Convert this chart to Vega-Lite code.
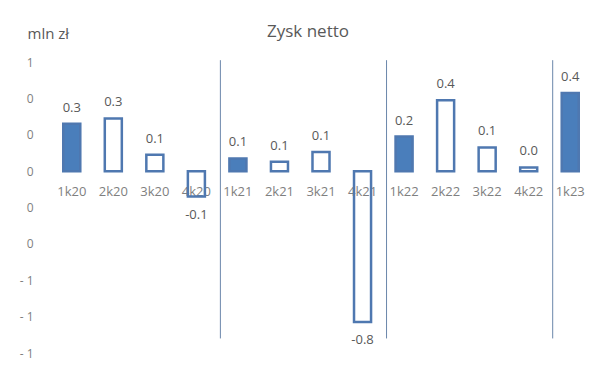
{
  "$schema": "https://vega.github.io/schema/vega-lite/v6.json",
  "width": 540,
  "height": 291,
  "autosize": "none",
  "padding": {"left": 51, "top": 62, "right": 7, "bottom": 13},
  "background": "white",
  "title": {
    "text": "Zysk netto",
    "anchor": "middle",
    "frame": "group",
    "dx": -13,
    "dy": 15,
    "offset": 0,
    "fontSize": 17,
    "font": "Open Sans",
    "fontWeight": "normal",
    "color": "#595959"
  },
  "config": {
    "view": {"stroke": null},
    "font": "Open Sans",
    "locale": {
      "number": {"decimal": ".", "thousands": ",", "grouping": [3], "currency": ["$", ""], "minus": "-"}
    }
  },
  "data": {
    "values": [
      {"q": "1k20", "kw": 1, "value": 0.26},
      {"q": "2k20", "kw": 2, "value": 0.29},
      {"q": "3k20", "kw": 3, "value": 0.09},
      {"q": "4k20", "kw": 4, "value": -0.14},
      {"q": "1k21", "kw": 1, "value": 0.07},
      {"q": "2k21", "kw": 2, "value": 0.052},
      {"q": "3k21", "kw": 3, "value": 0.105},
      {"q": "4k21", "kw": 4, "value": -0.83},
      {"q": "1k22", "kw": 1, "value": 0.19},
      {"q": "2k22", "kw": 2, "value": 0.39},
      {"q": "3k22", "kw": 3, "value": 0.13},
      {"q": "4k22", "kw": 4, "value": 0.02},
      {"q": "1k23", "kw": 1, "value": 0.43}
    ]
  },
  "layer": [
    {
      "mark": {
        "type": "bar",
        "stroke": "#4f78b0",
        "strokeWidth": 2.5
      },
      "encoding": {
        "x": {
          "field": "q",
          "type": "nominal",
          "sort": null,
          "scale": {"paddingInner": 0.59, "paddingOuter": 0.295},
          "axis": {
            "title": null,
            "orient": "bottom",
            "offset": -182,
            "domain": false,
            "ticks": false,
            "labelPadding": 14,
            "labelAngle": 0,
            "labelFontSize": 13,
            "labelColor": "#7f7f7f"
          }
        },
        "y": {
          "field": "value",
          "type": "quantitative",
          "scale": {"domain": [-1, 0.6], "nice": false, "zero": true},
          "axis": {
            "values": [-1, -0.8, -0.6, -0.4, -0.2, 0, 0.2, 0.4, 0.6],
            "tickCount": 12,
            "labelExpr": "datum.value < -0.5 ? '- ' + format(-datum.value, '.0f') : format(abs(datum.value), '.0f')",
            "labelOverlap": false,
            "domain": false,
            "ticks": false,
            "grid": false,
            "labelPadding": 18,
            "labelFontSize": 12,
            "labelColor": "#7f7f7f",
            "title": "mln zł",
            "titleAngle": 0,
            "titleAlign": "left",
            "titleBaseline": "middle",
            "titleX": -24,
            "titleY": -29,
            "titleFontSize": 15,
            "titleFontWeight": "normal",
            "titleColor": "#595959"
          }
        },
        "fill": {
          "condition": {"test": "datum.kw == 1", "value": "#4a7ebb"},
          "value": "transparent"
        }
      }
    },
    {
      "transform": [{"filter": "datum.kw == 1 && datum.q != '1k20'"}],
      "mark": {"type": "rule", "color": "#6b87ab", "strokeWidth": 1},
      "encoding": {
        "x": {"field": "q", "type": "nominal", "sort": null, "bandPosition": -0.53},
        "y": {"datum": 0.61},
        "y2": {"datum": -0.92}
      }
    },
    {
      "transform": [{"filter": "datum.value >= 0"}],
      "mark": {"type": "text", "baseline": "middle", "dy": -16, "fontSize": 13, "color": "#595959"},
      "encoding": {
        "x": {"field": "q", "type": "nominal", "sort": null},
        "y": {"field": "value", "type": "quantitative"},
        "text": {"field": "value", "type": "quantitative", "format": ".1f"}
      }
    },
    {
      "transform": [{"filter": "datum.value < 0"}],
      "mark": {"type": "text", "baseline": "middle", "dy": 18, "fontSize": 13, "color": "#595959"},
      "encoding": {
        "x": {"field": "q", "type": "nominal", "sort": null},
        "y": {"field": "value", "type": "quantitative"},
        "text": {"field": "value", "type": "quantitative", "format": ".1f"}
      }
    }
  ]
}
